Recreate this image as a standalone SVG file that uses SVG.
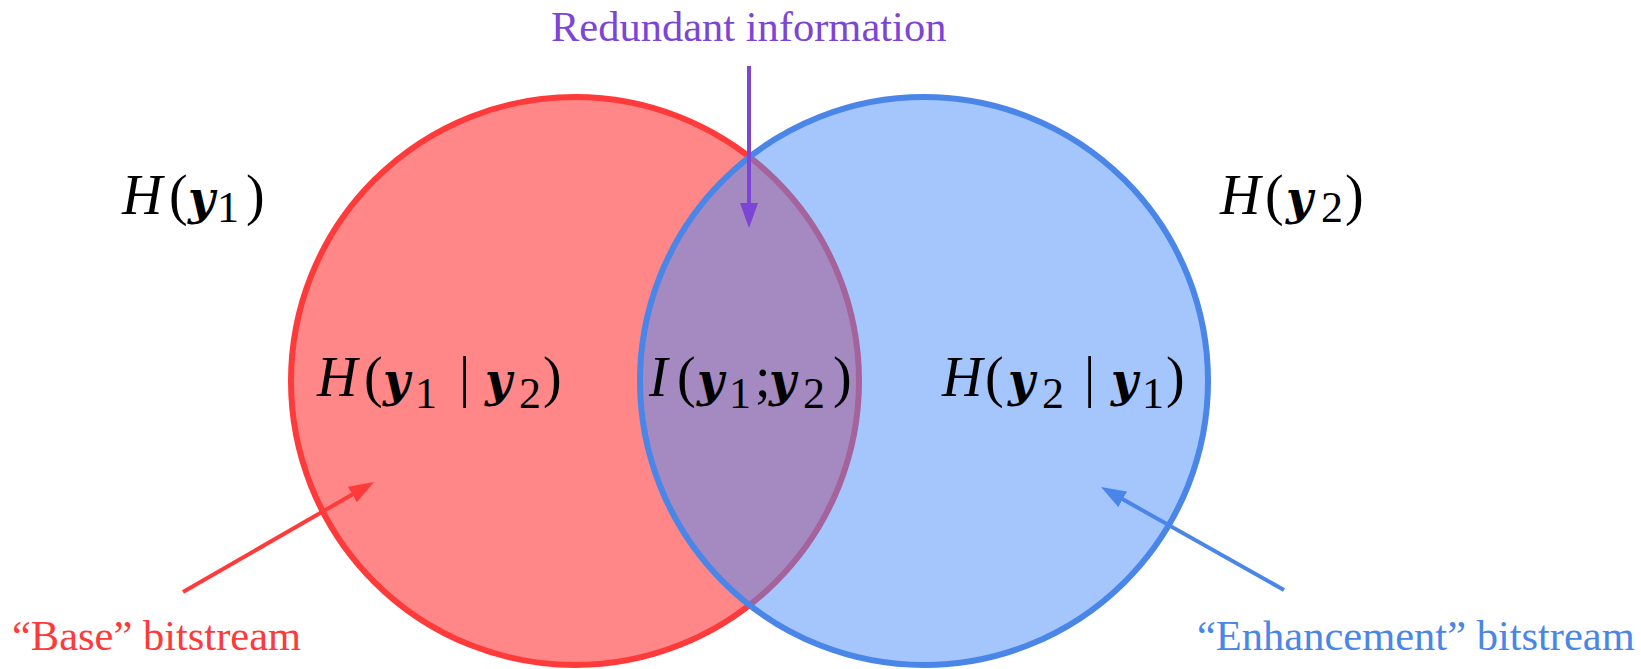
<svg xmlns="http://www.w3.org/2000/svg" width="1641" height="669" viewBox="0 0 1641 669">
  <style>
    .m { font-family: "Liberation Serif", "Times New Roman", serif; font-size: 56px; fill: #000; }
    .it { font-style: italic; }
    .bi { font-family: "DejaVu Serif", "Liberation Serif", serif; font-style: italic; font-weight: bold; font-size: 46px; }
    .sub { font-size: 44px; }
    .cap { font-family: "Liberation Serif", "Times New Roman", serif; font-size: 42.5px; }
    .conn { stroke-width: 4; fill: none; }
  </style>
  <defs>
    <marker id="head-purple" viewBox="0 -9 25 18" markerUnits="userSpaceOnUse" markerWidth="25" markerHeight="18" refX="5" refY="0" orient="auto">
      <path d="M0,-9 L25,0 L0,9 Z" fill="#7d45d6"/>
    </marker>
    <marker id="head-red" viewBox="0 -9 25 18" markerUnits="userSpaceOnUse" markerWidth="25" markerHeight="18" refX="5" refY="0" orient="auto">
      <path d="M0,-9 L25,0 L0,9 Z" fill="#ff3a3a"/>
    </marker>
    <marker id="head-blue" viewBox="0 -9 25 18" markerUnits="userSpaceOnUse" markerWidth="25" markerHeight="18" refX="5" refY="0" orient="auto">
      <path d="M0,-9 L25,0 L0,9 Z" fill="#4a86e8"/>
    </marker>
  </defs>

  <rect width="1641" height="669" fill="#ffffff"/>

  <!-- H(y1): base set -->
  <g id="set-y1">
    <circle cx="575" cy="381" r="284" fill="#ff8787" stroke="#ff3a3a" stroke-width="6"/>
  </g>

  <!-- H(y2): enhancement set, translucent so the overlap reads purple -->
  <g id="set-y2">
    <circle cx="924" cy="381" r="284" fill="#4b8bfb" fill-opacity="0.5"/>
    <circle cx="924" cy="381" r="284" fill="none" stroke="#4a86e8" stroke-width="6"/>
  </g>

  <!-- entropy labels -->
  <g id="label-h-y1">
    <text class="m" y="214"><tspan class="it" x="122">H</tspan><tspan x="169">(</tspan><tspan class="bi" x="188">y</tspan><tspan class="sub" x="217" dy="8">1</tspan><tspan x="246" dy="-8">)</tspan></text>
  </g>
  <g id="label-h-y2">
    <text class="m" y="214"><tspan class="it" x="1220">H</tspan><tspan x="1265">(</tspan><tspan class="bi" x="1286">y</tspan><tspan class="sub" x="1321" dy="8">2</tspan><tspan x="1345" dy="-8">)</tspan></text>
  </g>
  <g id="label-h-y1-given-y2">
    <text class="m" y="396"><tspan class="it" x="317">H</tspan><tspan x="364">(</tspan><tspan class="bi" x="383">y</tspan><tspan class="sub" x="415" dy="12">1</tspan><tspan x="459" dy="-12">|</tspan><tspan class="bi" x="485">y</tspan><tspan class="sub" x="519" dy="12">2</tspan><tspan x="543" dy="-12">)</tspan></text>
  </g>
  <g id="label-mutual">
    <text class="m" y="396"><tspan class="it" x="649">I</tspan><tspan x="677">(</tspan><tspan class="bi" x="697">y</tspan><tspan class="sub" x="729" dy="12">1</tspan><tspan x="755" dy="-12">;</tspan><tspan class="bi" x="769">y</tspan><tspan class="sub" x="803" dy="12">2</tspan><tspan x="833" dy="-12">)</tspan></text>
  </g>
  <g id="label-h-y2-given-y1">
    <text class="m" y="396"><tspan class="it" x="942">H</tspan><tspan x="985">(</tspan><tspan class="bi" x="1008">y</tspan><tspan class="sub" x="1042" dy="12">2</tspan><tspan x="1084" dy="-12">|</tspan><tspan class="bi" x="1111">y</tspan><tspan class="sub" x="1142" dy="12">1</tspan><tspan x="1166" dy="-12">)</tspan></text>
  </g>

  <!-- callout captions -->
  <g id="caption-redundant">
    <text class="cap" x="551" y="41" fill="#7d45d6">Redundant information</text>
  </g>
  <g id="caption-base">
    <text class="cap" x="12" y="650" fill="#ff3a3a">“Base” bitstream</text>
  </g>
  <g id="caption-enhancement">
    <text class="cap" x="1197" y="650" fill="#4a86e8">“Enhancement” bitstream</text>
  </g>

  <!-- callout arrows -->
  <g id="connectors">
    <line class="conn" x1="749" y1="66" x2="749" y2="208" stroke="#7d45d6" marker-end="url(#head-purple)"/>
    <line class="conn" x1="183" y1="592" x2="356.7" y2="492" stroke="#ff3a3a" marker-end="url(#head-red)"/>
    <line class="conn" x1="1284" y1="590" x2="1118.4" y2="496.8" stroke="#4a86e8" marker-end="url(#head-blue)"/>
  </g>
</svg>
